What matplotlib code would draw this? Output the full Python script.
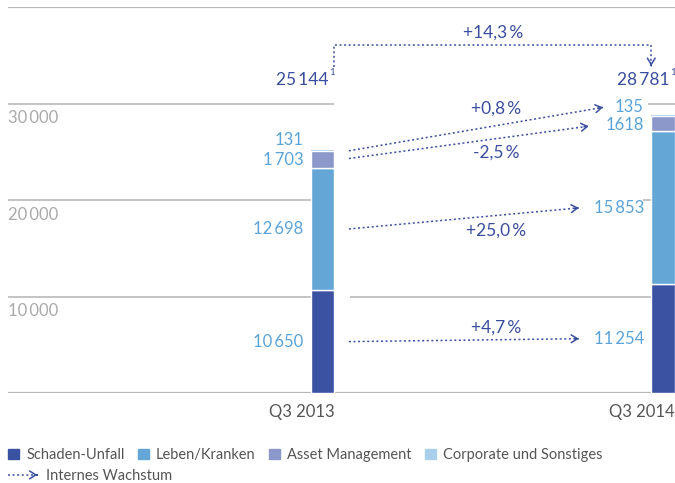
import matplotlib
matplotlib.use("Agg")
import matplotlib.pyplot as plt
from matplotlib.patches import Patch, FancyArrowPatch
from matplotlib.lines import Line2D
from matplotlib.legend_handler import HandlerBase

plt.rcParams['font.family'] = ['Lato', 'DejaVu Sans']

# ---------------- data -----------------
quarters = ['Q3 2013', 'Q3 2014']
segments = ['Schaden-Unfall', 'Leben/Kranken', 'Asset Management', 'Corporate und Sonstiges']
schaden = [10650, 11254]
leben = [12698, 15853]
asset = [1703, 1618]
corporate = [131, 135]
totals = ['25\u2009144', '28\u2009781']
value_labels = [['10\u2009650', '12\u2009698', '1\u2009703', '131'],
                ['11\u2009254', '15\u2009853', '1618', '135']]
growth = ['+4,7\u2009%', '+25,0\u2009%', '-2,5\u2009%', '+0,8\u2009%']
total_growth = '+14,3\u2009%'
yticks = [10000, 20000, 30000]
ytick_labels = ['10\u2009000', '20\u2009000', '30\u2009000']

colors = ['#3b52a3', '#64a7d7', '#8c98c9', '#a9cfec']
txt_blue = '#5aa3d9'
dark = '#3a4e9f'
grid_c = '#b9b9b9'

fig = plt.figure(figsize=(6.75, 4.83), dpi=100)
ax = fig.add_axes([8 / 675, 90 / 483, 667 / 675, 386 / 483])
ax.set_xlim(-0.9236, 1.0352)
ax.set_ylim(0, 40000)
ax.axis('off')

w = 0.069
x = [0, 1]
b1r = x[0] + w / 2
b2l = x[1] - w / 2
xl = -0.9236
xr = 1.0352

# gridlines (partly masked by the annotation area like in the original)
ax.hlines([0, 40000], xl, xr, color=grid_c, lw=1.6, zorder=1)
ax.hlines(yticks, xl, b1r, color=grid_c, lw=1.2, zorder=1)
ax.hlines(10000, 0.0795, xr, color=grid_c, lw=1.2, zorder=1)
ax.hlines(20000, b2l - 0.025, xr, color=grid_c, lw=1.2, zorder=1)
ax.hlines(30000, b2l - 0.01, xr, color=grid_c, lw=1.2, zorder=1)
for v, lab in zip(yticks, ytick_labels):
    ax.annotate(lab, (xl, v), xytext=(0, -5), textcoords='offset points',
                ha='left', va='top', fontsize=12, color='#aaaaaa')

# stacked bars
bottom = [0, 0]
mids = []
for vals, c in zip([schaden, leben, asset, corporate], colors):
    thin = vals is corporate
    ax.bar(x, vals, width=w, bottom=bottom, color=c, edgecolor='white', lw=0 if thin else 1,
           zorder=1.5 if thin else 2)
    mids.append([b + v / 2 for b, v in zip(bottom, vals)])
    bottom = [b + v for b, v in zip(bottom, vals)]

# value labels
small_off = [(-7, 7), (-7.5, 5.5)]
for i in range(2):
    lx = x[i] - w / 2 - 0.022
    ax.text(lx, mids[0][i], value_labels[i][0], ha='right', va='center', fontsize=12, color=txt_blue)
    ax.text(lx, mids[1][i], value_labels[i][1], ha='right', va='center', fontsize=12, color=txt_blue)
    ax.annotate(value_labels[i][2], (lx, bottom[i]), xytext=(0, small_off[i][0]),
                textcoords='offset points', ha='right', va='center', fontsize=12, color=txt_blue)
    ax.annotate(value_labels[i][3], (lx, bottom[i]), xytext=(0, small_off[i][1]),
                textcoords='offset points', ha='right', va='center', fontsize=12, color=txt_blue)
    ax.text(x[i] + w / 2 - 0.016, 32400, totals[i], ha='right', va='center', fontsize=12.5, color=dark)
    ax.text(x[i] + w / 2 - 0.014, 33200, '1', ha='left', va='center', fontsize=7, color=dark)
    ax.annotate(quarters[i], (x[i] + w / 2, 0), xytext=(0, -8), textcoords='offset points',
                ha='right', va='top', fontsize=12, color='#555555')

dots = (0, (1.3, 1.7))


def arrow(p0, p1):
    ax.plot([p0[0], p1[0]], [p0[1], p1[1]], ls=dots, lw=1.1, color=dark, zorder=3)
    back = (p1[0] - 0.02 * (p1[0] - p0[0]), p1[1] - 0.02 * (p1[1] - p0[1]))
    ax.annotate('', xy=p1, xytext=back,
                arrowprops=dict(arrowstyle='->,head_length=0.45,head_width=0.28', color=dark,
                                lw=1.1, shrinkA=0, shrinkB=0), zorder=3)


xs = 0.0775
xe = 0.753
arrow((xs, mids[0][0]), (xe, mids[0][1]))
arrow((xs, mids[1][0]), (xe, mids[1][1]))
arrow((xs, 24300), (0.782, 27650))
arrow((xs, 25100), (0.824, 29600))
ax.text(0.51, 6800, growth[0], ha='center', va='center', fontsize=12.5, color=dark)
ax.text(0.51, 16800, growth[1], ha='center', va='center', fontsize=12.5, color=dark)
ax.text(0.51, 24900, growth[2], ha='center', va='center', fontsize=12.5, color=dark)
ax.text(0.51, 29500, growth[3], ha='center', va='center', fontsize=12.5, color=dark)

# bracket for total growth
ax.plot([b1r, b1r, b2l], [33800, 36050, 36050], ls=dots, lw=1.1, color=dark, zorder=3)
arrow((b2l, 36050), (b2l, 33900))
ax.text(0.5, 37300, total_growth, ha='center', va='center', fontsize=12.5, color=dark)


# legend
class ArrowHandler(HandlerBase):
    def create_artists(self, legend, orig_handle, xdescent, ydescent, width, height, fontsize, trans):
        y = height / 2 - ydescent
        x0 = -xdescent
        x1 = width - xdescent
        line = Line2D([x0, x1 - 1], [y, y], ls=dots, lw=1.1, color=dark, transform=trans)
        head = FancyArrowPatch((x1 - 4, y), (x1, y), arrowstyle='->,head_length=0.45,head_width=0.28',
                               color=dark, lw=1.1, mutation_scale=10, transform=trans)
        return [line, head]


handles = [Patch(color=c) for c in colors]
leg = fig.legend(handles, segments, ncol=4, loc='center left', bbox_to_anchor=(8 / 675, 1 - 455 / 483),
                 frameon=False, fontsize=10.5, handlelength=0.75, handleheight=0.75,
                 handletextpad=0.5, columnspacing=0.9, borderpad=0, borderaxespad=0)
for t in leg.get_texts():
    t.set_color('#555555')
dummy = Line2D([], [])
leg2 = fig.legend([dummy], ['Internes Wachstum'], loc='center left', bbox_to_anchor=(8 / 675, 1 - 476 / 483),
                  frameon=False, fontsize=10.5, handlelength=2.2, handletextpad=0.4, borderpad=0,
                  borderaxespad=0, handler_map={dummy: ArrowHandler()})
for t in leg2.get_texts():
    t.set_color('#555555')

fig.savefig('out.png', dpi=100)
